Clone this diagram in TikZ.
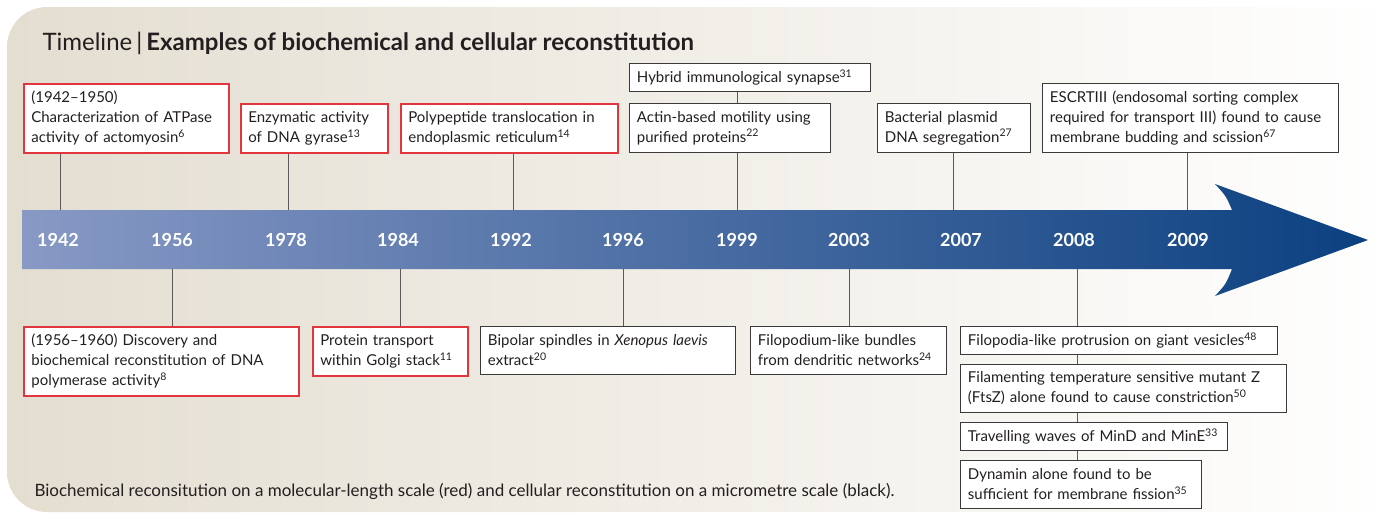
\documentclass[tikz,border=0pt]{standalone}
\usepackage{fontspec}
\setmainfont{Lato}
\usetikzlibrary{positioning}

\definecolor{bgbeige}{HTML}{E4DED1}
\definecolor{arrowL}{HTML}{8899C5}
\definecolor{arrowR}{HTML}{0B4080}
\definecolor{evred}{HTML}{E2363E}
\definecolor{evgrey}{HTML}{3A3A3A}
\definecolor{linkgrey}{HTML}{5A5A5A}
\definecolor{inkgrey}{HTML}{231F20}

\tikzset{
  event/.style={draw=evgrey, line width=0.9pt, fill=white, text=inkgrey,
    anchor=north west, align=left, inner xsep=7.5pt, inner ysep=0pt,
    font=\fontsize{15}{20}\selectfont},
  redevent/.style={event, draw=evred, line width=1.7pt},
  year/.style={text=white, font=\fontsize{18}{20}\selectfont\bfseries},
  link/.style={draw=linkgrey, line width=1pt},
}

\begin{document}
\begin{tikzpicture}[x=1pt,y=-1pt]

\useasboundingbox (0,0) rectangle (1375,512);

% Background panel
\shade[left color=bgbeige, right color=white, rounded corners=40pt]
  (7,7) rectangle (1400,512);

% Title
\node[anchor=base west, text=inkgrey, font=\fontsize{24}{28}\selectfont] (title) at (39,50)
  {Timeline\,|\,\textbf{Examples of biochemical and cellular reconstitution}};

% --- Time arrow ---
\shade[left color=arrowL, right color=arrowR]
  (22,210) -- (1232,210) .. controls (1226,196) .. (1215,184) -- (1368,240)
  -- (1215,296) .. controls (1226,284) .. (1232,269) -- (22,269) -- cycle;

\foreach \yr/\x in {1942/58, 1956/172, 1978/286, 1984/398, 1992/511, 1996/623,
                    1999/737, 2003/849, 2007/961, 2008/1074, 2009/1188}
  \node[year] (y\yr) at (\x,240) {\yr};

% Connector ends on the arrow edge
\coordinate (a1942) at (60,210);
\coordinate (a1978) at (288,210);
\coordinate (a1992) at (513,210);
\coordinate (a1999) at (737,210);
\coordinate (a2007) at (953,210);
\coordinate (a2009) at (1187,210);
\coordinate (a1956) at (172,269);
\coordinate (a1984) at (400,269);
\coordinate (a1996) at (623,269);
\coordinate (a2003) at (849,269);
\coordinate (a2008) at (1077,269);

% --- Events above the arrow ---
\node[redevent, text width=190pt, minimum height=69pt] (ev1942) at (23,83)
  {(1942--1950)\\Characterization of ATPase\\activity of actomyosin\textsuperscript{6}};
\node[redevent, text width=132pt, minimum height=49pt] (ev1978) at (240,103)
  {Enzymatic activity\\of DNA gyrase\textsuperscript{13}};
\node[redevent, text width=202pt, minimum height=49pt] (ev1992) at (400,103)
  {Polypeptide translocation in\\endoplasmic reticulum\textsuperscript{14}};
\node[event, text width=186pt, minimum height=49pt] (ev1999) at (629,103)
  {Actin-based motility using\\purified proteins\textsuperscript{22}};
\node[event, text width=226pt, minimum height=28pt,
      above=11pt of ev1999.north west, anchor=south west] (evsyn)
  {Hybrid immunological synapse\textsuperscript{31}};
\node[event, text width=138pt, minimum height=49pt] (ev2007) at (877,103)
  {Bacterial plasmid\\DNA segregation\textsuperscript{27}};
\node[event, text width=281pt, minimum height=69pt] (ev2009) at (1042,83)
  {ESCRTIII (endosomal sorting complex\\required for transport III) found to cause\\membrane budding and scission\textsuperscript{67}};

% --- Events below the arrow ---
\node[redevent, text width=260pt, minimum height=69pt] (ev1956) at (23,326)
  {(1956--1960) Discovery and\\biochemical reconstitution of DNA\\polymerase activity\textsuperscript{8}};
\node[redevent, text width=140pt, minimum height=49pt] (ev1984) at (312,326)
  {Protein transport\\within Golgi stack\textsuperscript{11}};
\node[event, text width=240pt, minimum height=48pt] (ev1996) at (480,326)
  {Bipolar spindles in \textit{Xenopus laevis}\\extract\textsuperscript{20}};
\node[event, text width=181pt, minimum height=48pt] (ev2003) at (750,326)
  {Filopodium-like bundles\\from dendritic networks\textsuperscript{24}};
\node[event, text width=302pt, minimum height=28pt] (ev2008a) at (960,326)
  {Filopodia-like protrusion on giant vesicles\textsuperscript{48}};
\node[event, text width=311pt, minimum height=48pt,
      below=9pt of ev2008a.south west, anchor=north west] (ev2008b)
  {Filamenting temperature sensitive mutant Z\\(FtsZ) alone found to cause constriction\textsuperscript{50}};
\node[event, text width=252pt, minimum height=28pt,
      below=9pt of ev2008b.south west, anchor=north west] (ev2008c)
  {Travelling waves of MinD and MinE\textsuperscript{33}};
\node[event, text width=226pt, minimum height=48pt,
      below=9pt of ev2008c.south west, anchor=north west] (ev2008d)
  {Dynamin alone found to be\\sufficient for membrane fission\textsuperscript{35}};

% --- Connectors ---
\draw[link] (a1942) -- (a1942 |- ev1942.south);
\draw[link] (a1978) -- (a1978 |- ev1978.south);
\draw[link] (a1992) -- (a1992 |- ev1992.south);
\draw[link] (a1999) -- (a1999 |- ev1999.south);
\draw[link] (a1999 |- ev1999.north) -- (a1999 |- evsyn.south);
\draw[link] (a2007) -- (a2007 |- ev2007.south);
\draw[link] (a2009) -- (a2009 |- ev2009.south);
\draw[link] (a1956) -- (a1956 |- ev1956.north);
\draw[link] (a1984) -- (a1984 |- ev1984.north);
\draw[link] (a1996) -- (a1996 |- ev1996.north);
\draw[link] (a2003) -- (a2003 |- ev2003.north);
\draw[link] (a2008) -- (a2008 |- ev2008a.north);
\draw[link] (a2008 |- ev2008a.south) -- (a2008 |- ev2008b.north);
\draw[link] (a2008 |- ev2008b.south) -- (a2008 |- ev2008c.north);
\draw[link] (a2008 |- ev2008c.south) -- (a2008 |- ev2008d.north);

% Caption
\node[anchor=base west, text=inkgrey, font=\fontsize{17}{20}\selectfont] (caption) at (31,496)
  {Biochemical reconsitution on a molecular-length scale (red) and cellular reconstitution on a micrometre scale (black).};

\end{tikzpicture}
\end{document}
